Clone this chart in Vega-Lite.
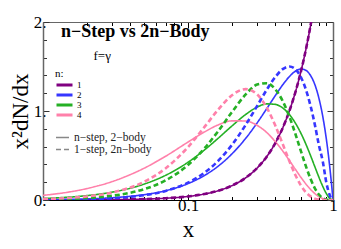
{
  "$schema": "https://vega.github.io/schema/vega-lite/v6.json",
  "width": 290,
  "height": 178,
  "autosize": "none",
  "padding": {"left": 43, "top": 22, "right": 8, "bottom": 49},
  "config": {"view": {"stroke": null}, "font": "Times New Roman"},
  "title": {
    "text": "n\u2212Step vs 2n\u2212Body",
    "subtitle": "\u200b\u2002\u2002\u2002\u2002\u2002f=\u03b3",
    "anchor": "start",
    "frame": "group",
    "orient": "top",
    "font": "Times New Roman",
    "fontSize": 18,
    "fontWeight": "bold",
    "color": "black",
    "subtitleFont": "Times New Roman",
    "subtitleFontSize": 13,
    "subtitleColor": "black",
    "subtitlePadding": 9,
    "offset": -50,
    "dx": 18
  },
  "data": {"values": [
    {"x":0.01,"y":0.0004,"n":"1","t":"s"},{"x":0.015,"y":0.0009,"n":"1","t":"s"},{"x":0.02,"y":0.0016,"n":"1","t":"s"},{"x":0.03,"y":0.0036,"n":"1","t":"s"},{"x":0.04,"y":0.0064,"n":"1","t":"s"},{"x":0.05,"y":0.01,"n":"1","t":"s"},{"x":0.07,"y":0.0196,"n":"1","t":"s"},{"x":0.1,"y":0.04,"n":"1","t":"s"},{"x":0.13,"y":0.0676,"n":"1","t":"s"},{"x":0.16,"y":0.1024,"n":"1","t":"s"},{"x":0.2,"y":0.16,"n":"1","t":"s"},{"x":0.25,"y":0.25,"n":"1","t":"s"},{"x":0.3,"y":0.36,"n":"1","t":"s"},{"x":0.35,"y":0.49,"n":"1","t":"s"},{"x":0.4,"y":0.64,"n":"1","t":"s"},{"x":0.45,"y":0.81,"n":"1","t":"s"},{"x":0.5,"y":1.0,"n":"1","t":"s"},{"x":0.55,"y":1.21,"n":"1","t":"s"},{"x":0.6,"y":1.44,"n":"1","t":"s"},{"x":0.65,"y":1.69,"n":"1","t":"s"},{"x":0.7,"y":1.96,"n":"1","t":"s"},{"x":0.75,"y":2.25,"n":"1","t":"s"},
    {"x":0.01,"y":0.0037,"n":"2","t":"s"},{"x":0.015,"y":0.0076,"n":"2","t":"s"},{"x":0.02,"y":0.0125,"n":"2","t":"s"},{"x":0.03,"y":0.0253,"n":"2","t":"s"},{"x":0.04,"y":0.0412,"n":"2","t":"s"},{"x":0.05,"y":0.0599,"n":"2","t":"s"},{"x":0.07,"y":0.1042,"n":"2","t":"s"},{"x":0.1,"y":0.184,"n":"2","t":"s"},{"x":0.13,"y":0.276,"n":"2","t":"s"},{"x":0.16,"y":0.375,"n":"2","t":"s"},{"x":0.2,"y":0.515,"n":"2","t":"s"},{"x":0.25,"y":0.693,"n":"2","t":"s"},{"x":0.3,"y":0.867,"n":"2","t":"s"},{"x":0.35,"y":1.029,"n":"2","t":"s"},{"x":0.4,"y":1.173,"n":"2","t":"s"},{"x":0.45,"y":1.294,"n":"2","t":"s"},{"x":0.5,"y":1.386,"n":"2","t":"s"},{"x":0.55,"y":1.447,"n":"2","t":"s"},{"x":0.6,"y":1.472,"n":"2","t":"s"},{"x":0.65,"y":1.457,"n":"2","t":"s"},{"x":0.7,"y":1.399,"n":"2","t":"s"},{"x":0.75,"y":1.296,"n":"2","t":"s"},{"x":0.8,"y":1.142,"n":"2","t":"s"},{"x":0.85,"y":0.939,"n":"2","t":"s"},{"x":0.9,"y":0.683,"n":"2","t":"s"},{"x":0.95,"y":0.37,"n":"2","t":"s"},{"x":0.97,"y":0.229,"n":"2","t":"s"},{"x":0.99,"y":0.079,"n":"2","t":"s"},{"x":1.0,"y":0,"n":"2","t":"s"},
    {"x":0.01,"y":0.017,"n":"3","t":"s"},{"x":0.015,"y":0.0318,"n":"3","t":"s"},{"x":0.02,"y":0.049,"n":"3","t":"s"},{"x":0.03,"y":0.0886,"n":"3","t":"s"},{"x":0.04,"y":0.1326,"n":"3","t":"s"},{"x":0.05,"y":0.1795,"n":"3","t":"s"},{"x":0.07,"y":0.277,"n":"3","t":"s"},{"x":0.1,"y":0.424,"n":"3","t":"s"},{"x":0.13,"y":0.563,"n":"3","t":"s"},{"x":0.16,"y":0.688,"n":"3","t":"s"},{"x":0.2,"y":0.829,"n":"3","t":"s"},{"x":0.25,"y":0.961,"n":"3","t":"s"},{"x":0.3,"y":1.044,"n":"3","t":"s"},{"x":0.35,"y":1.08,"n":"3","t":"s"},{"x":0.4,"y":1.074,"n":"3","t":"s"},{"x":0.45,"y":1.034,"n":"3","t":"s"},{"x":0.5,"y":0.961,"n":"3","t":"s"},{"x":0.55,"y":0.865,"n":"3","t":"s"},{"x":0.6,"y":0.752,"n":"3","t":"s"},{"x":0.65,"y":0.628,"n":"3","t":"s"},{"x":0.7,"y":0.4995,"n":"3","t":"s"},{"x":0.75,"y":0.373,"n":"3","t":"s"},{"x":0.8,"y":0.255,"n":"3","t":"s"},{"x":0.85,"y":0.153,"n":"3","t":"s"},{"x":0.9,"y":0.072,"n":"3","t":"s"},{"x":0.95,"y":0.019,"n":"3","t":"s"},{"x":0.97,"y":0.007,"n":"3","t":"s"},{"x":0.99,"y":0.0008,"n":"3","t":"s"},{"x":1.0,"y":0,"n":"3","t":"s"},
    {"x":0.01,"y":0.052,"n":"4","t":"s"},{"x":0.015,"y":0.0889,"n":"4","t":"s"},{"x":0.02,"y":0.1277,"n":"4","t":"s"},{"x":0.03,"y":0.207,"n":"4","t":"s"},{"x":0.04,"y":0.285,"n":"4","t":"s"},{"x":0.05,"y":0.3585,"n":"4","t":"s"},{"x":0.07,"y":0.491,"n":"4","t":"s"},{"x":0.1,"y":0.651,"n":"4","t":"s"},{"x":0.13,"y":0.765,"n":"4","t":"s"},{"x":0.16,"y":0.841,"n":"4","t":"s"},{"x":0.2,"y":0.889,"n":"4","t":"s"},{"x":0.25,"y":0.888,"n":"4","t":"s"},{"x":0.3,"y":0.838,"n":"4","t":"s"},{"x":0.35,"y":0.7565,"n":"4","t":"s"},{"x":0.4,"y":0.656,"n":"4","t":"s"},{"x":0.45,"y":0.551,"n":"4","t":"s"},{"x":0.5,"y":0.444,"n":"4","t":"s"},{"x":0.55,"y":0.345,"n":"4","t":"s"},{"x":0.6,"y":0.256,"n":"4","t":"s"},{"x":0.65,"y":0.1805,"n":"4","t":"s"},{"x":0.7,"y":0.119,"n":"4","t":"s"},{"x":0.75,"y":0.0717,"n":"4","t":"s"},{"x":0.8,"y":0.0379,"n":"4","t":"s"},{"x":0.85,"y":0.0165,"n":"4","t":"s"},{"x":0.9,"y":0.0051,"n":"4","t":"s"},{"x":0.95,"y":0.0006,"n":"4","t":"s"},{"x":1.0,"y":0,"n":"4","t":"s"},
    {"x":0.01,"y":0.0004,"n":"1","t":"d"},{"x":0.015,"y":0.0009,"n":"1","t":"d"},{"x":0.02,"y":0.0016,"n":"1","t":"d"},{"x":0.03,"y":0.0036,"n":"1","t":"d"},{"x":0.04,"y":0.0064,"n":"1","t":"d"},{"x":0.05,"y":0.01,"n":"1","t":"d"},{"x":0.07,"y":0.0196,"n":"1","t":"d"},{"x":0.1,"y":0.04,"n":"1","t":"d"},{"x":0.13,"y":0.0676,"n":"1","t":"d"},{"x":0.16,"y":0.1024,"n":"1","t":"d"},{"x":0.2,"y":0.16,"n":"1","t":"d"},{"x":0.25,"y":0.25,"n":"1","t":"d"},{"x":0.3,"y":0.36,"n":"1","t":"d"},{"x":0.35,"y":0.49,"n":"1","t":"d"},{"x":0.4,"y":0.64,"n":"1","t":"d"},{"x":0.45,"y":0.81,"n":"1","t":"d"},{"x":0.5,"y":1.0,"n":"1","t":"d"},{"x":0.55,"y":1.21,"n":"1","t":"d"},{"x":0.6,"y":1.44,"n":"1","t":"d"},{"x":0.65,"y":1.69,"n":"1","t":"d"},{"x":0.7,"y":1.96,"n":"1","t":"d"},{"x":0.75,"y":2.25,"n":"1","t":"d"},
    {"x":0.01,"y":0.0024,"n":"2","t":"d"},{"x":0.015,"y":0.0052,"n":"2","t":"d"},{"x":0.02,"y":0.0092,"n":"2","t":"d"},{"x":0.03,"y":0.0203,"n":"2","t":"d"},{"x":0.04,"y":0.0354,"n":"2","t":"d"},{"x":0.05,"y":0.0542,"n":"2","t":"d"},{"x":0.07,"y":0.1017,"n":"2","t":"d"},{"x":0.1,"y":0.1944,"n":"2","t":"d"},{"x":0.13,"y":0.307,"n":"2","t":"d"},{"x":0.16,"y":0.4335,"n":"2","t":"d"},{"x":0.2,"y":0.6144,"n":"2","t":"d"},{"x":0.25,"y":0.844,"n":"2","t":"d"},{"x":0.3,"y":1.058,"n":"2","t":"d"},{"x":0.35,"y":1.242,"n":"2","t":"d"},{"x":0.4,"y":1.382,"n":"2","t":"d"},{"x":0.45,"y":1.47,"n":"2","t":"d"},{"x":0.5,"y":1.5,"n":"2","t":"d"},{"x":0.55,"y":1.47,"n":"2","t":"d"},{"x":0.6,"y":1.382,"n":"2","t":"d"},{"x":0.65,"y":1.242,"n":"2","t":"d"},{"x":0.7,"y":1.058,"n":"2","t":"d"},{"x":0.75,"y":0.844,"n":"2","t":"d"},{"x":0.8,"y":0.6144,"n":"2","t":"d"},{"x":0.85,"y":0.4335,"n":"2","t":"d"},{"x":0.9,"y":0.1944,"n":"2","t":"d"},{"x":0.95,"y":0.0542,"n":"2","t":"d"},{"x":0.97,"y":0.0203,"n":"2","t":"d"},{"x":0.99,"y":0.0024,"n":"2","t":"d"},{"x":1.0,"y":0,"n":"2","t":"d"},
    {"x":0.01,"y":0.0058,"n":"3","t":"d"},{"x":0.015,"y":0.0127,"n":"3","t":"d"},{"x":0.02,"y":0.0221,"n":"3","t":"d"},{"x":0.03,"y":0.0478,"n":"3","t":"d"},{"x":0.04,"y":0.0815,"n":"3","t":"d"},{"x":0.05,"y":0.1222,"n":"3","t":"d"},{"x":0.07,"y":0.22,"n":"3","t":"d"},{"x":0.1,"y":0.394,"n":"3","t":"d"},{"x":0.13,"y":0.581,"n":"3","t":"d"},{"x":0.16,"y":0.765,"n":"3","t":"d"},{"x":0.2,"y":0.983,"n":"3","t":"d"},{"x":0.25,"y":1.1865,"n":"3","t":"d"},{"x":0.3,"y":1.2965,"n":"3","t":"d"},{"x":0.35,"y":1.312,"n":"3","t":"d"},{"x":0.4,"y":1.244,"n":"3","t":"d"},{"x":0.45,"y":1.112,"n":"3","t":"d"},{"x":0.5,"y":0.9375,"n":"3","t":"d"},{"x":0.55,"y":0.744,"n":"3","t":"d"},{"x":0.6,"y":0.553,"n":"3","t":"d"},{"x":0.65,"y":0.38,"n":"3","t":"d"},{"x":0.7,"y":0.238,"n":"3","t":"d"},{"x":0.75,"y":0.1318,"n":"3","t":"d"},{"x":0.8,"y":0.0614,"n":"3","t":"d"},{"x":0.85,"y":0.0219,"n":"3","t":"d"},{"x":0.9,"y":0.0049,"n":"3","t":"d"},{"x":0.95,"y":0.0003,"n":"3","t":"d"},{"x":1.0,"y":0,"n":"3","t":"d"},
    {"x":0.01,"y":0.0105,"n":"4","t":"d"},{"x":0.015,"y":0.023,"n":"4","t":"d"},{"x":0.02,"y":0.0397,"n":"4","t":"d"},{"x":0.03,"y":0.084,"n":"4","t":"d"},{"x":0.04,"y":0.1403,"n":"4","t":"d"},{"x":0.05,"y":0.2058,"n":"4","t":"d"},{"x":0.07,"y":0.355,"n":"4","t":"d"},{"x":0.1,"y":0.595,"n":"4","t":"d"},{"x":0.13,"y":0.821,"n":"4","t":"d"},{"x":0.16,"y":1.007,"n":"4","t":"d"},{"x":0.2,"y":1.174,"n":"4","t":"d"},{"x":0.25,"y":1.246,"n":"4","t":"d"},{"x":0.3,"y":1.186,"n":"4","t":"d"},{"x":0.35,"y":1.035,"n":"4","t":"d"},{"x":0.4,"y":0.836,"n":"4","t":"d"},{"x":0.45,"y":0.628,"n":"4","t":"d"},{"x":0.5,"y":0.4375,"n":"4","t":"d"},{"x":0.55,"y":0.281,"n":"4","t":"d"},{"x":0.6,"y":0.165,"n":"4","t":"d"},{"x":0.65,"y":0.087,"n":"4","t":"d"},{"x":0.7,"y":0.04,"n":"4","t":"d"},{"x":0.75,"y":0.0154,"n":"4","t":"d"},{"x":0.8,"y":0.0046,"n":"4","t":"d"},{"x":0.85,"y":0.001,"n":"4","t":"d"},{"x":0.9,"y":0.0001,"n":"4","t":"d"},{"x":1.0,"y":0,"n":"4","t":"d"}
  ]},
  "encoding": {
    "color": {
      "field": "n", "type": "nominal",
      "scale": {"domain": ["1","2","3","4"], "range": ["#800080","#3636ff","#25b025","#ff80aa"]},
      "legend": {
        "title": "n:", "orient": "none", "legendX": 12, "legendY": 46,
        "titleFont": "Times New Roman", "titleFontSize": 11, "titleFontWeight": "normal", "titleColor": "black", "titlePadding": 1,
        "labelFont": "Times New Roman", "labelFontSize": 9, "labelColor": "black", "labelOffset": 3,
        "symbolType": "stroke", "symbolSize": 256, "symbolStrokeWidth": 3, "clipHeight": 10, "rowPadding": 0
      }
    },
    "strokeDash": {
      "field": "t", "type": "nominal",
      "scale": {"domain": ["s","d"], "range": [[1,0],[5,3]]},
      "legend": {
        "title": null, "orient": "none", "legendX": 12, "legendY": 110,
        "labelExpr": "datum.label == 's' ? 'n\u2212step, 2\u2212body' : '1\u2212step, 2n\u2212body'",
        "labelFont": "Times New Roman", "labelFontSize": 11.5, "labelColor": "#222", "labelOffset": 4,
        "symbolType": "stroke", "symbolSize": 169, "symbolStrokeWidth": 1.5, "symbolStrokeColor": "#888", "clipHeight": 11, "rowPadding": 0
      }
    }
  },
  "layer": [
    {
      "transform": [{"filter": "datum.t == 's'"}],
      "mark": {"type": "line", "interpolate": "monotone", "strokeWidth": 1.6, "clip": true},
      "encoding": {
        "x": {"field": "x", "type": "quantitative",
          "scale": {"type": "log", "domain": [0.01, 1]},
          "axis": {"orient": "bottom", "title": "x", "titleFont": "Times New Roman", "titleFontSize": 23, "titleFontWeight": "normal", "titleColor": "black", "titlePadding": 3,
            "values": [0.01,0.02,0.03,0.04,0.05,0.06,0.07,0.08,0.09,0.1,0.2,0.3,0.4,0.5,0.6,0.7,0.8,0.9,1],
            "labelExpr": "datum.value == 0.1 ? '0.1' : datum.value == 1 ? '1' : ''",
            "labelFont": "Times New Roman", "labelFontSize": 17, "labelColor": "black", "labelPadding": 3, "labelFlush": false, "labelOverlap": false,
            "grid": false, "domainColor": "black", "tickColor": "black",
            "tickSize": {"condition": {"test": "datum.value == 0.01 || datum.value == 0.1 || datum.value == 1", "value": -6}, "value": -3.5}}},
        "y": {"field": "y", "type": "quantitative",
          "scale": {"domain": [0, 2], "nice": false, "zero": false},
          "axis": {"orient": "left", "title": "x\u00b2dN/dx", "titleFont": "Times New Roman", "titleFontSize": 23, "titleFontWeight": "normal", "titleColor": "black", "titlePadding": 1,
            "values": [0,0.2,0.4,0.6,0.8,1,1.2,1.4,1.6,1.8,2],
            "labelExpr": "datum.value == 0 ? '0.' : datum.value == 1 ? '1.' : datum.value == 2 ? '2.' : ''",
            "labelFont": "Times New Roman", "labelFontSize": 17, "labelColor": "black", "labelPadding": 3, "labelFlush": false, "labelOverlap": false,
            "grid": false, "domainColor": "#666", "domainWidth": 1.5, "tickColor": "#333",
            "tickSize": {"condition": {"test": "datum.value == 0 || datum.value == 1 || datum.value == 2", "value": -6}, "value": -3.5}}}
      }
    },
    {
      "transform": [{"filter": "datum.t == 'd'"}],
      "mark": {"type": "line", "interpolate": "monotone", "strokeWidth": 2.6, "clip": true},
      "encoding": {
        "x": {"field": "x", "type": "quantitative",
          "axis": {"orient": "top", "title": null, "labels": false,
            "values": [0.01,0.02,0.03,0.04,0.05,0.06,0.07,0.08,0.09,0.1,0.2,0.3,0.4,0.5,0.6,0.7,0.8,0.9,1],
            "grid": false, "domainColor": "#666", "tickColor": "black",
            "tickSize": {"condition": {"test": "datum.value == 0.01 || datum.value == 0.1 || datum.value == 1", "value": -6}, "value": -3.5}}},
        "y": {"field": "y", "type": "quantitative",
          "axis": {"orient": "right", "title": null, "labels": false,
            "values": [0,0.2,0.4,0.6,0.8,1,1.2,1.4,1.6,1.8,2],
            "grid": false, "domainColor": "#666", "domainWidth": 1.5, "tickColor": "#333",
            "tickSize": {"condition": {"test": "datum.value == 0 || datum.value == 1 || datum.value == 2", "value": -6}, "value": -3.5}}}
      }
    }
  ],
  "resolve": {"axis": {"x": "independent", "y": "independent"}}
}
